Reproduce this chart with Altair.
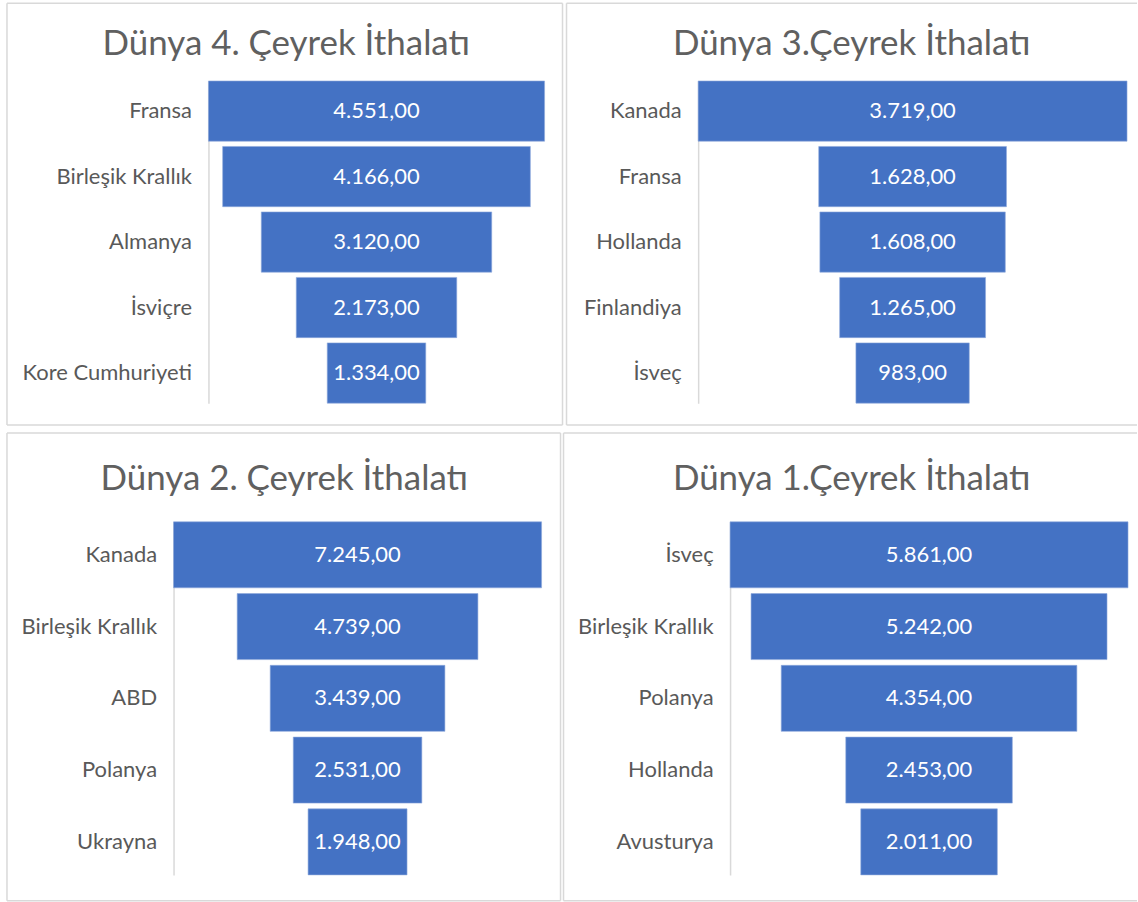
import altair as alt
import pandas as pd

titles = ["Dünya 4. Çeyrek İthalatı", "Dünya 3.Çeyrek İthalatı",
          "Dünya 2. Çeyrek İthalatı", "Dünya 1.Çeyrek İthalatı"]

q4_countries = ["Fransa", "Birleşik Krallık", "Almanya", "İsviçre", "Kore Cumhuriyeti"]
q4_values = [4551, 4166, 3120, 2173, 1334]

q3_countries = ["Kanada", "Fransa", "Hollanda", "Finlandiya", "İsveç"]
q3_values = [3719, 1628, 1608, 1265, 983]

q2_countries = ["Kanada", "Birleşik Krallık", "ABD", "Polanya", "Ukrayna"]
q2_values = [7245, 4739, 3439, 2531, 1948]

q1_countries = ["İsveç", "Birleşik Krallık", "Polanya", "Hollanda", "Avusturya"]
q1_values = [5861, 5242, 4354, 2453, 2011]

FONT = "Lato"
BAR = "#4472C4"
GRAY_TXT = "#595959"
LINE = "#D9D9D9"
LBL_SIZE = 22
TITLE_SIZE = 35


def tr_format(v):
    s = f"{v:,.2f}"
    return s.replace(",", "X").replace(".", ",").replace("X", ".")


def panel(countries, values, title, W, H, px, py, tpos, right_border):
    M = max(values)
    df = pd.DataFrame({
        "ulke": countries,
        "deger": values,
    })
    df["lo"] = -df["deger"] / 2
    df["hi"] = df["deger"] / 2
    df["orta"] = 0.0
    df["etiket"] = [tr_format(v) for v in values]

    xscale = alt.Scale(domain=[-M / 2, M / 2], range=px, nice=False, zero=False)
    yscale = alt.Scale(range=py, paddingInner=0.08, paddingOuter=0)
    yenc = alt.Y("ulke:N", sort=countries, scale=yscale, title=None,
                 axis=alt.Axis(offset=-px[0], domainColor=LINE, domainWidth=1.5,
                               ticks=False, tickSize=0, labelPadding=17,
                               labelFontSize=LBL_SIZE, labelFont=FONT,
                               labelColor=GRAY_TXT, grid=False, labelLimit=300))

    bars = alt.Chart(df).mark_bar(color=BAR, stroke="#8FAADC", strokeWidth=0.6).encode(
        x=alt.X("lo:Q", scale=xscale, axis=None),
        x2="hi:Q",
        y=yenc,
    )
    texts = alt.Chart(df).mark_text(color="white", fontSize=LBL_SIZE, font=FONT).encode(
        x=alt.X("orta:Q", scale=xscale, axis=None),
        y=alt.Y("ulke:N", sort=countries, scale=yscale, title=None),
        text="etiket:N",
    )
    one = alt.Data(values=[{}])
    ttl = alt.Chart(one).mark_text(text=title, fontSize=TITLE_SIZE, font=FONT,
                                   color="#606060", align="center",
                                   baseline="alphabetic").encode(
        x=alt.value(tpos[0]), y=alt.value(tpos[1]))
    rules = [
        alt.Chart(one).mark_rule(color=LINE, strokeWidth=1.5).encode(
            x=alt.value(0), x2=alt.value(W), y=alt.value(0)),
        alt.Chart(one).mark_rule(color=LINE, strokeWidth=1.5).encode(
            x=alt.value(0), x2=alt.value(W), y=alt.value(H)),
        alt.Chart(one).mark_rule(color=LINE, strokeWidth=1.5).encode(
            x=alt.value(0), y=alt.value(0), y2=alt.value(H)),
    ]
    if right_border:
        rules.append(alt.Chart(one).mark_rule(color=LINE, strokeWidth=1.5).encode(
            x=alt.value(W), y=alt.value(0), y2=alt.value(H)))
    return alt.layer(bars, texts, ttl, *rules).properties(width=W, height=H)


A = panel(q4_countries, q4_values, titles[0], 557, 423, [202, 539], [78, 401], (280, 52), True)
B = panel(q3_countries, q3_values, titles[1], 572, 423, [132, 562], [78, 401], (286, 52), False)
C = panel(q2_countries, q2_values, titles[2], 555, 469, [167, 536], [89, 443], (278, 57), True)
D = panel(q1_countries, q1_values, titles[3], 575, 469, [167, 566], [89, 443], (289, 57), False)

row1 = alt.hconcat(A, B, spacing=2)
row2 = alt.hconcat(C, D, spacing=1)
chart = alt.vconcat(row1, row2, spacing=6).properties(
    padding={"left": 6, "top": 1, "right": 0, "bottom": 0},
    background="white",
).configure_view(strokeWidth=0)

chart.save("out.html", embed_options={"renderer": "svg", "actions": False})
